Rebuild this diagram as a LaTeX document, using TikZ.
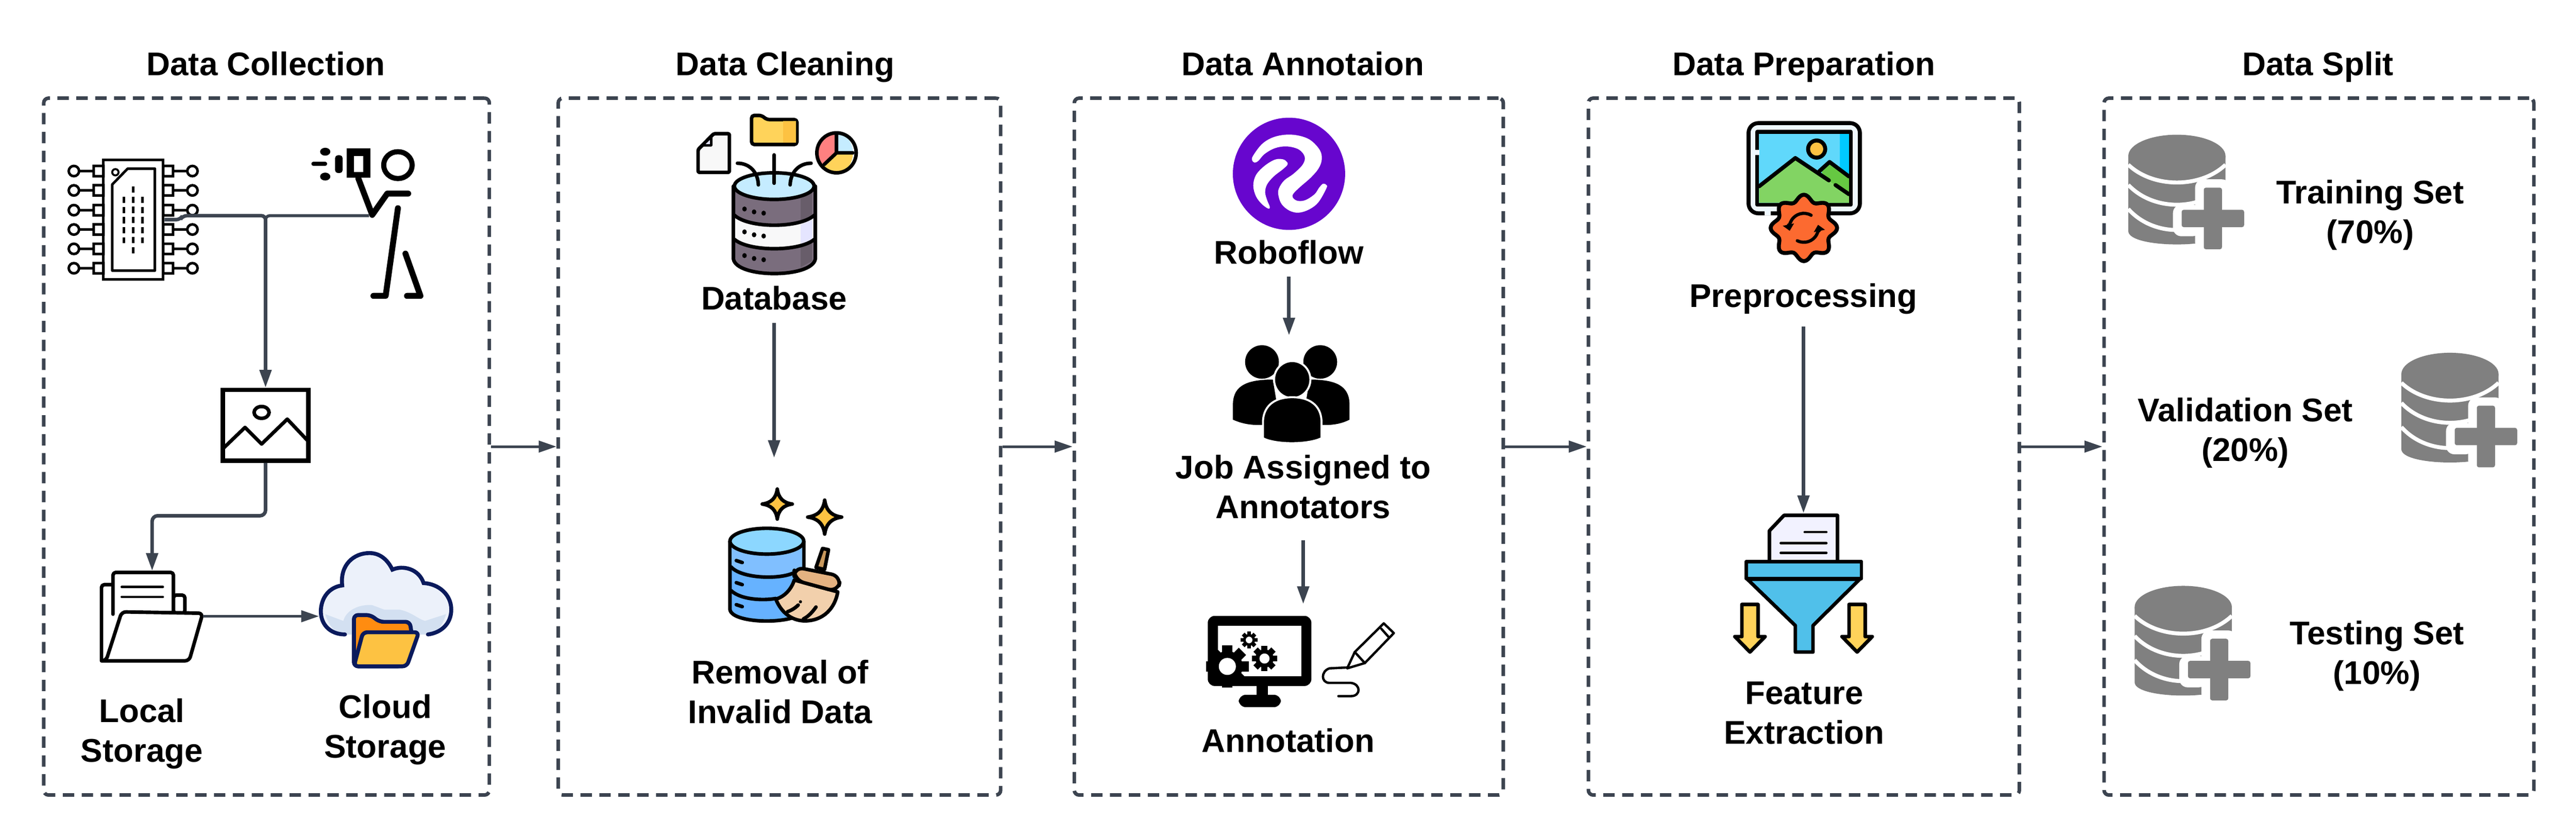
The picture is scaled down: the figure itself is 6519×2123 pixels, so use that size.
\documentclass[tikz,border=0pt]{standalone}
\usepackage{fontspec}
\setmainfont{Liberation Sans}
\usetikzlibrary{arrows.meta}

\definecolor{slate}{HTML}{3C4450}
\definecolor{navy}{HTML}{0A1A5C}
\definecolor{skyLight}{HTML}{C5ECFF}
\definecolor{plum}{HTML}{7A6D7D}
\definecolor{plumDark}{HTML}{685D6A}
\definecolor{honey}{HTML}{FDC242}
\definecolor{sand}{HTML}{FFD35A}
\definecolor{roboPurple}{HTML}{6706CE}
\definecolor{dbGrey}{HTML}{808080}
\definecolor{funnelBlue}{HTML}{50C0EA}
\definecolor{cloudPale}{HTML}{ECF1FA}
\definecolor{cloudBand}{HTML}{D3E0F1}
\definecolor{folderOrange}{HTML}{FF8C10}
\definecolor{gearOrange}{HTML}{FC6A30}
\definecolor{grassLight}{HTML}{82D463}
\definecolor{grassDark}{HTML}{66C842}
\definecolor{skyBright}{HTML}{60D8FB}
\definecolor{skyDeep}{HTML}{00CAFF}
\definecolor{frameIce}{HTML}{EFF8FE}
\definecolor{broomHead}{HTML}{E4B281}
\definecolor{broomSkin}{HTML}{F2D0AC}
\definecolor{broomStick}{HTML}{C8985C}

\tikzstyle{stage}=[draw=slate,line width=.09cm,dash pattern=on 8.2pt off 5.4pt,rounded corners=.12cm,inner sep=0]
\tikzstyle{spot}=[inner sep=0]
\tikzstyle{heading}=[font=\fontsize{23.6}{28.5}\selectfont\bfseries,text height=.6cm,text depth=.17cm,inner sep=.1cm]
\tikzstyle{lbl}=[font=\fontsize{23.6}{28.5}\selectfont\bfseries,align=center,inner sep=.29cm]
\tikzstyle{flow}=[draw=slate,line width=.09cm,-{Triangle[length=.45cm,width=.29cm]}]
\tikzstyle{thinflow}=[flow,line width=.065cm]
\tikzstyle{ink}=[line width=.09cm,line join=round,line cap=round]
\tikzstyle{thinink}=[ink,line width=.06cm]

% views: numbers inside are read off the enlarged crops
\tikzstyle{collectview}=[shift={(100,200)},xscale=.765,yscale=1.148]
\tikzstyle{cleanview}=[shift={(1500,250)},xscale=.638,yscale=1.053]
\tikzstyle{brushview}=[shift={(1820,1220)},scale=1/3]
\tikzstyle{logoview}=[shift={(3100,280)},scale=1/3]
\tikzstyle{annotview}=[shift={(2800,250)},xscale=.638,yscale=1.116]
\tikzstyle{photoview}=[shift={(4380,290)},scale=1/3]
\tikzstyle{prepview}=[shift={(4100,250)},xscale=.638,yscale=1.116]

\tikzset{
  cog/.pic={
    \fill (0,0) circle (72);
    \foreach \a in {0,45,...,315} \fill[rotate=\a] (-24,60) rectangle (24,100);
    \fill[white] (0,0) circle (40);
  },
  sparkle/.pic={
    \draw[ink,fill=honey] (0,-1) .. controls (.08,-.4) and (.4,-.08) .. (1,0) .. controls (.4,.08) and (.08,.4) .. (0,1)
      .. controls (-.08,.4) and (-.4,.08) .. (-1,0) .. controls (-.4,-.08) and (-.08,-.4) .. (0,-1) -- cycle;
  },
  dbplus/.pic={
    \fill[dbGrey] (-123,0) -- (-123,190) .. controls (-123,235) and (123,235) .. (123,190) -- (123,0) -- cycle;
    \draw[white,line width=.1cm] (-123,22) .. controls (-60,82) and (60,82) .. (123,22);
    \draw[white,line width=.1cm] (-123,73) .. controls (-60,140) and (60,140) .. (123,73);
    \draw[white,line width=.1cm] (-123,134) .. controls (-60,205) and (60,205) .. (123,134);
    \fill[dbGrey] (0,0) ellipse [x radius=123,y radius=54];
    \fill[white,rounded corners=6pt] (46,59) rectangle (135,240);
    \fill[white,rounded corners=6pt] (-10,123) rectangle (60,203);
    \fill[dbGrey,rounded corners=1.5pt] (68,80) rectangle (114,236);
    \fill[dbGrey,rounded corners=1.5pt] (12,136) rectangle (170,180);
  }
}

\begin{document}
\begin{tikzpicture}[x=.01cm,y=-.01cm]
    \useasboundingbox (0,0) rectangle (6519,2123);

    % stages
    \node[stage,minimum width=11.27cm,minimum height=17.63cm] (collectBox) at (674.5,1130.5) {};
    \node[stage,minimum width=11.19cm,minimum height=17.63cm] (cleanBox) at (1972.5,1130.5) {};
    \node[stage,minimum width=10.85cm,minimum height=17.63cm] (annotBox) at (3261.5,1130.5) {};
    \node[stage,minimum width=10.90cm,minimum height=17.63cm] (prepBox) at (4565,1130.5) {};
    \node[stage,minimum width=10.87cm,minimum height=17.63cm] (splitBox) at (5868.5,1130.5) {};

    \node[heading] (collectTitle) at (673,170) {Data Collection};
    \node[heading] (cleanTitle) at (1987,170) {Data Cleaning};
    \node[heading] (annotTitle) at (3297,170) {Data Annotaion};
    \node[heading] (prepTitle) at (4565,170) {Data Preparation};
    \node[heading] (splitTitle) at (5866,170) {Data Split};

    \draw[thinflow] (collectBox.east) -- (cleanBox.west);
    \draw[thinflow] (cleanBox.east) -- (annotBox.west);
    \draw[thinflow] (annotBox.east) -- (prepBox.west);
    \draw[thinflow] (prepBox.east) -- (splitBox.west);

    % chip
    \node[draw,line width=.065cm,inner sep=0,minimum width=1.51cm,minimum height=3.02cm] (chip) at (337.5,556) {};
    \foreach \y in {433,482,532,581,630,679}{
        \draw[line width=.065cm] (187,\y) circle (13) (200,\y) -- (237,\y) (237,\y-13) rectangle (262,\y+13);
        \draw[line width=.065cm] (487,\y) circle (13) (474,\y) -- (438,\y) (413,\y-13) rectangle (438,\y+13);
    }
    \draw[line width=.065cm,line join=round] (284,467) -- (323,427) -- (392,427) -- (392,685) -- (284,685) -- cycle;
    \draw[line width=.05cm] (292,436) circle (8);
    \foreach \x/\a/\b in {314/498/615,337/472/641,361/498/615}
        \draw[line width=.065cm,dash pattern=on 4.55pt off 2.73pt] (\x,\a) -- (\x,\b);

    % photographer
    \draw[line width=.13cm] (1007,418) ellipse [x radius=36,y radius=34];
    \fill (877,376) rectangle (938,450);
    \fill[white] (896,395) rectangle (919,435);
    \fill[rounded corners=2pt] (848,393) rectangle (867,438);
    \draw[ink,line width=.1cm] (793,415) -- (823,415);
    \fill (823,384) ellipse [x radius=13,y radius=10];
    \fill (823,447) ellipse [x radius=13,y radius=10];
    \draw[ink,line width=.15cm] (907,452) -- (942,544) -- (980,490) -- (1033,490);
    \draw[ink,line width=.15cm] (945,749) -- (976,749) -- (1007,527);
    \draw[ink,line width=.15cm] (1026,642) -- (1064,749) -- (1030,749);
    \coordinate (hand) at (934,546);

    % picture frame
    \node[draw,line width=.11cm,inner sep=0,minimum width=2.16cm,minimum height=1.79cm] (picture) at (672,1076.5) {};
    \draw[line width=.09cm] (662,1044) ellipse [x radius=19,y radius=15];
    \draw[line width=.09cm,line join=round] (566,1134) -- (620,1082) -- (662,1124) -- (727,1061) -- (780,1117);

    \coordinate (split) at (672,546);
    \draw[flow,rounded corners=3pt] (chip.east) -- ++(40,0) -- ++(6,-10) -- (split) -- (picture.north);
    \draw[draw=slate,line width=.075cm,rounded corners=3pt] (hand) -- (split) -- ++(0,60);

    % local folder
    \node[spot,minimum width=2.56cm,minimum height=2.28cm] (localFolder) at (385,1560) {};
    \begin{scope}[collectview]
        \draw[ink,rounded corners=2pt] (243,1115) -- (205,1115) -- (205,1283);
        \draw[ink,fill=white,rounded corners=2pt] (443,1138) -- (481,1138) -- (481,1178) -- (443,1178) -- cycle;
        \draw[ink,fill=white,rounded corners=2pt] (243,1180) -- (243,1088) -- (443,1088) -- (443,1178);
        \draw[thinink] (272,1120) -- (408,1120) (272,1142) -- (408,1142);
        \draw[ink,fill=white,rounded corners=3pt] (272,1175) -- (540,1178) -- (495,1283) -- (205,1283) -- (220,1283) -- cycle;
    \end{scope}

    % cloud
    \node[spot,minimum width=3.34cm,minimum height=2cm] (cloudIcon) at (975,1560) {};
    \fill[cloudPale] (873,1606) .. controls (835,1606) and (810,1580) .. (812,1543)
        .. controls (815,1505) and (840,1485) .. (866,1482) .. controls (860,1430) and (895,1400) .. (935,1400)
        .. controls (960,1400) and (980,1415) .. (993,1442) .. controls (1020,1430) and (1060,1440) .. (1072,1476)
        .. controls (1110,1478) and (1142,1505) .. (1142,1543) .. controls (1142,1580) and (1115,1602) .. (1083,1606) -- cycle;
    \begin{scope}[collectview]
        \fill[cloudBand] (945,1180) -- (1005,1195) .. controls (1015,1170) and (1060,1158) .. (1100,1160)
            -- (1140,1170) -- (1190,1170) .. controls (1230,1175) and (1250,1190) .. (1275,1195)
            -- (1345,1180) .. controls (1330,1210) and (1310,1225) .. (1285,1225) -- (1010,1225) .. controls (980,1222) and (960,1210) .. (945,1180) -- cycle;
    \end{scope}
    \draw[draw=navy,line width=.1cm,line cap=round] (873,1606) .. controls (835,1606) and (810,1580) .. (812,1543)
        .. controls (815,1505) and (840,1485) .. (866,1482) .. controls (860,1430) and (895,1400) .. (935,1400)
        .. controls (960,1400) and (980,1415) .. (993,1442) .. controls (1020,1430) and (1060,1440) .. (1072,1476)
        .. controls (1110,1478) and (1142,1505) .. (1142,1543) .. controls (1142,1580) and (1115,1602) .. (1083,1606);
    \begin{scope}[collectview]
        \draw[draw=navy,ink,line width=.1cm,fill=folderOrange,rounded corners=3pt] (1040,1295) -- (1040,1182) -- (1095,1182) -- (1125,1197) -- (1225,1197) -- (1235,1240) -- (1200,1295) -- cycle;
        \draw[draw=navy,ink,line width=.1cm,fill=honey,rounded corners=3pt] (1070,1220) -- (1255,1220) -- (1215,1295) -- (1040,1295) -- cycle;
    \end{scope}

    \draw[flow,rounded corners=4pt] (picture.south) -- ++(0,134) -| (localFolder.north);
    \draw[thinflow] (localFolder.east) -- (cloudIcon.west);

    \node[lbl] (localLabel) at (359,1858) {Local\\Storage};
    \node[lbl] (cloudLabel) at (975,1847) {Cloud\\Storage};

    % database
    \begin{scope}[cleanview]
        \draw[ink,fill=plum] (558,210) -- (558,385) .. controls (570,432) and (870,432) .. (883,385) -- (883,210) -- cycle;
        \fill[plumDark] (825,240) -- (870,225) -- (870,285) -- (825,298) -- cycle;
        \fill[plumDark] (825,355) -- (870,340) -- (870,390) -- (825,405) -- cycle;
        \fill[white!95!plum] (565,285) .. controls (620,312) and (820,312) .. (875,285) -- (875,340) .. controls (820,365) and (620,365) .. (565,340) -- cycle;
        \fill[blue!10!white] (825,302) -- (872,290) -- (872,340) -- (825,355) -- cycle;
        \draw[ink] (562,280) .. controls (620,312) and (820,312) .. (879,280);
        \draw[ink] (562,338) .. controls (620,368) and (820,368) .. (879,338);
        \foreach \r in {0,55,112}{
            \fill (602,265+\r) ellipse [x radius=9,y radius=6];
            \fill (640,272+\r) ellipse [x radius=9,y radius=6];
            \fill (678,275+\r) ellipse [x radius=9,y radius=6];
        }
        \draw[ink,fill=skyLight] (720,210) ellipse [x radius=158,y radius=32];
        \draw[ink] (720,135) -- (720,203);
        \draw[ink] (574,155) .. controls (620,155) and (655,175) .. (657,207);
        \draw[ink] (866,155) .. controls (820,155) and (785,175) .. (783,207);
        % folder
        \draw[ink,fill=sand,rounded corners=2pt] (630,110) -- (630,40) -- (670,40) -- (690,50) -- (810,50) -- (810,110) -- cycle;
        \fill[honey] (755,54) rectangle (806,106);
        % sheet
        \draw[ink,fill=white!95!plum,rounded corners=1pt] (418,177) -- (418,122) -- (480,84) -- (542,84) -- (542,177) -- cycle;
        \draw[thinink,fill=blue!10!white] (435,112) -- (470,112) -- (470,92) -- cycle;
        % pie
        \fill[white] (967,130) ellipse [x radius=78,y radius=48];
        \fill[red!50!white] (967,130) -- ++(141:78 and 48) arc[start angle=141,end angle=270,x radius=78,y radius=48] -- cycle;
        \fill[sand] (967,130) -- ++(0:65 and 48) arc[start angle=0,end angle=141,x radius=65,y radius=48] -- cycle;
        \fill[skyLight] (967,130) -- ++(270:65 and 48) arc[start angle=270,end angle=360,x radius=65,y radius=48] -- cycle;
        \draw[ink] (967,130) ellipse [x radius=78,y radius=48];
        \draw[ink] (1032,130) -- (967,130) -- (967,85) (967,130) -- (918,158);
    \end{scope}
    \node[lbl] (dbLabel) at (1959,755) {Database};

    % cleaned database
    \node[spot,minimum width=2cm,minimum height=4cm] (cleanIcon) at (1959,1360) {};
    \begin{scope}[brushview]
        \draw[ink,fill=blue!50!cyan!60!white] (82,450) -- (82,970) .. controls (100,1085) and (620,1085) .. (642,970) -- (642,450) -- cycle;
        \fill[blue!50!cyan!50!white] (95,480) -- (630,480) -- (630,660) -- (360,730) -- (95,650) -- cycle;
        \draw[ink] (90,645) .. controls (170,735) and (450,740) .. (555,695);
        \draw[ink] (90,825) .. controls (170,900) and (350,900) .. (430,885);
        \draw[ink,fill=blue!35!cyan!45!white] (362,450) ellipse [x radius=280,y radius=98];
        \draw[ink] (130,597) -- (175,612) (130,765) -- (175,780) (130,932) -- (175,947);
        \draw[ink,fill=broomStick] (785,505) -- (830,515) -- (800,665) -- (735,650) -- cycle;
        \draw[ink,fill=broomSkin] (570,745) .. controls (550,810) and (500,870) .. (430,890) .. controls (470,990) and (550,1055) .. (650,1055) .. controls (790,1055) and (880,960) .. (900,835) -- cycle;
        \draw[ink,fill=broomHead,rounded corners=7pt] (570,745) -- (570,645) -- (925,715) -- (900,835) -- cycle;
        \fill (617,910) circle (12);
        \draw[ink] (520,985) .. controls (550,975) and (580,955) .. (600,935);
        \draw[ink] (640,1040) .. controls (680,1020) and (710,985) .. (735,950);
    \end{scope}
    \pic[scale=38] at (1967,1276) {sparkle};
    \pic[scale=43] at (2087,1309) {sparkle};
    \node[lbl] (cleanLabel) at (1974,1751) {Removal of\\Invalid Data};
    \draw[flow,shorten <=.02cm] (dbLabel.south) -- (cleanIcon.north);

    % roboflow
    \node[circle,fill=roboPurple,inner sep=0,minimum size=2.84cm] (roboLogo) at (3262,440) {};
    \begin{scope}[logoview]
        \fill[white] plot[smooth cycle,tension=.6] coordinates {(205,375) (225,395) (255,380) (300,330) (380,285) (470,272) (560,295) (605,350) (590,410) (520,480) (450,530) (410,590) (405,640) (430,710) (490,760) (560,775) (640,750) (710,695) (770,590) (770,565) (745,555) (715,585) (680,635) (610,680) (550,685) (515,660) (520,630) (570,580) (650,510) (710,440) (735,370) (720,300) (650,225) (560,190) (460,183) (360,205) (280,255) (215,340)};
        \fill[white] plot[smooth cycle,tension=.6] coordinates {(470,390) (440,370) (380,372) (300,420) (235,490) (215,570) (235,650) (280,710) (330,745) (340,730) (320,680) (305,620) (320,560) (370,500) (440,445) (475,410)};
    \end{scope}
    \node[lbl] (roboLabel) at (3262,638) {Roboflow};

    % annotators
    \node[spot,minimum width=2cm,minimum height=3cm] (crowdIcon) at (3262,1000) {};
    \begin{scope}[annotview]
        \fill (617,597) ellipse [x radius=67,y radius=38];
        \fill (848,597) ellipse [x radius=67,y radius=38];
        \fill (502,728) -- (502,690) .. controls (505,650) and (560,637) .. (660,637) -- (690,740) -- (605,740) .. controls (560,740) and (530,735) .. (502,728) -- cycle;
        \fill (964,728) -- (964,690) .. controls (961,650) and (906,637) .. (806,637) -- (776,740) -- (868,740) .. controls (910,740) and (940,735) .. (964,728) -- cycle;
        \draw[white,line width=.05cm,fill=black] (737,637) ellipse [x radius=72,y radius=42];
        \draw[white,line width=.05cm,fill=black] (621,770) -- (621,730) .. controls (625,695) and (670,677) .. (737,677) .. controls (805,677) and (850,695) .. (853,730) -- (853,770) .. controls (800,785) and (670,785) .. (621,770) -- cycle;
        \fill[white] (605,742) rectangle (621,790);
        \fill[white] (853,742) rectangle (869,790);
    \end{scope}
    \node[lbl] (jobLabel) at (3298,1232) {Job Assigned to\\Annotators};

    % annotation station
    \node[spot,minimum width=2cm,minimum height=3cm] (stationIcon) at (3298,1680) {};
    \begin{scope}[annotview]
        \fill[rounded corners=5pt] (402,1173) rectangle (813,1332);
        \fill[white] (442,1195) rectangle (773,1310);
        \fill (595,1330) rectangle (640,1355);
        \fill[rounded corners=5pt] (525,1352) rectangle (692,1380);
        \draw[ink,line width=.06cm] (955,1292) -- (985,1255) -- (1100,1190) -- (1140,1212) -- (1025,1280) -- cycle;
        \draw[thinink] (985,1255) -- (1025,1280) (1090,1202) -- (1118,1220);
        \draw[ink,line width=.06cm] (955,1290) -- (885,1292) .. controls (850,1298) and (850,1325) .. (885,1325) -- (970,1325) .. controls (1010,1328) and (1010,1355) .. (970,1355) -- (920,1355);
    \end{scope}
    \pic[scale=.54] at (3106,1687) {cog};
    \pic[scale=.32] at (3200,1667) {cog};
    \pic[scale=.21] at (3161,1620) {cog};
    \node[lbl] (annotLabel) at (3260,1874) {Annotation};

    \draw[flow,shorten <=.02cm] (roboLabel.south) -- (crowdIcon.north);
    \draw[flow,shorten <=.25cm] (jobLabel.south) -- (stationIcon.north);

    % preprocessing
    \begin{scope}[photoview]
        \draw[ink,line width=.1cm,fill=frameIce,rounded corners=7pt] (135,65) rectangle (980,750);
        \draw[frameIce,line width=.11cm] (255,750) -- (305,750);
        \draw[ink,line width=.1cm,fill=skyBright] (200,132) rectangle (912,685);
        \fill[skyDeep] (828,146) rectangle (897,670);
        \fill[skyDeep] (652,275) circle (65);
        \draw[frameIce,line width=.11cm,line cap=butt] (200,268) -- (200,308);
        \fill[grassDark] (690,430) -- (750,375) -- (897,475) -- (897,670) -- (750,670) -- cycle;
        \fill[grassLight] (215,550) -- (490,335) -- (770,520) -- (897,610) -- (897,670) -- (215,670) -- cycle;
        \draw[ink,line width=.1cm] (215,545) -- (490,330) -- (745,500) (795,535) -- (897,605);
        \draw[ink,line width=.1cm] (672,430) -- (750,360) -- (897,470);
        \draw[ink,line width=.1cm,fill=honey] (652,262) circle (65);
    \end{scope}
    \draw[ink,line width=.1cm,fill=gearOrange] plot[domain=0:360,samples=97,smooth,variable=\t] ({4565+(76+8*cos(8*\t))*cos(\t)},{577+(76+8*cos(8*\t))*sin(\t)}) -- cycle;
    \begin{scope}[photoview]
        \draw[line width=.08cm,line cap=round,-{Triangle[length=.16cm,width=.28cm]}] (555,860) ++(-60:110) arc[start angle=-60,end angle=-192,radius=110];
        \draw[line width=.08cm,line cap=round,-{Triangle[length=.16cm,width=.28cm]}] (555,860) ++(117:110) arc[start angle=117,end angle=-12,radius=110];
    \end{scope}
    \node[lbl] (prepLabel) at (4564,756) {Preprocessing};

    % funnel
    \node[spot,minimum width=2cm,minimum height=6cm] (funnelIcon) at (4564,1600) {};
    \begin{scope}[prepview]
        \draw[ink,fill=white!95!blue] (592,1050) -- (592,980) -- (650,945) -- (862,945) -- (862,1050) -- cycle;
        \draw[thinink] (732,983) -- (818,983) (637,1008) -- (818,1008) (637,1030) -- (818,1030);
        \draw[ink,fill=funnelBlue] (505,1090) -- (950,1090) -- (765,1195) -- (765,1255) -- (695,1255) -- (695,1195) -- cycle;
        \draw[ink,fill=funnelBlue] (500,1050) rectangle (957,1088);
        \draw[ink,fill=sand] (483,1147) -- (547,1147) -- (547,1220) -- (575,1220) -- (515,1255) -- (455,1220) -- (483,1220) -- cycle;
        \draw[ink,fill=sand] (908,1147) -- (972,1147) -- (972,1220) -- (1000,1220) -- (940,1255) -- (880,1220) -- (908,1220) -- cycle;
    \end{scope}
    \node[lbl] (featureLabel) at (4566,1805) {Feature\\Extraction};
    \draw[flow,shorten <=.02cm] (prepLabel.south) -- (funnelIcon.north);

    % split
    \pic at (5509,395) {dbplus};
    \pic at (6200,947) {dbplus};
    \pic at (5525,1537) {dbplus};
    \node[lbl] (trainLabel) at (5998,544) {Training Set\\(70\%)};
    \node[lbl] (validLabel) at (5682,1096) {Validation Set\\(20\%)};
    \node[lbl] (testLabel) at (6015,1660) {Testing Set\\(10\%)};
\end{tikzpicture}
\end{document}
